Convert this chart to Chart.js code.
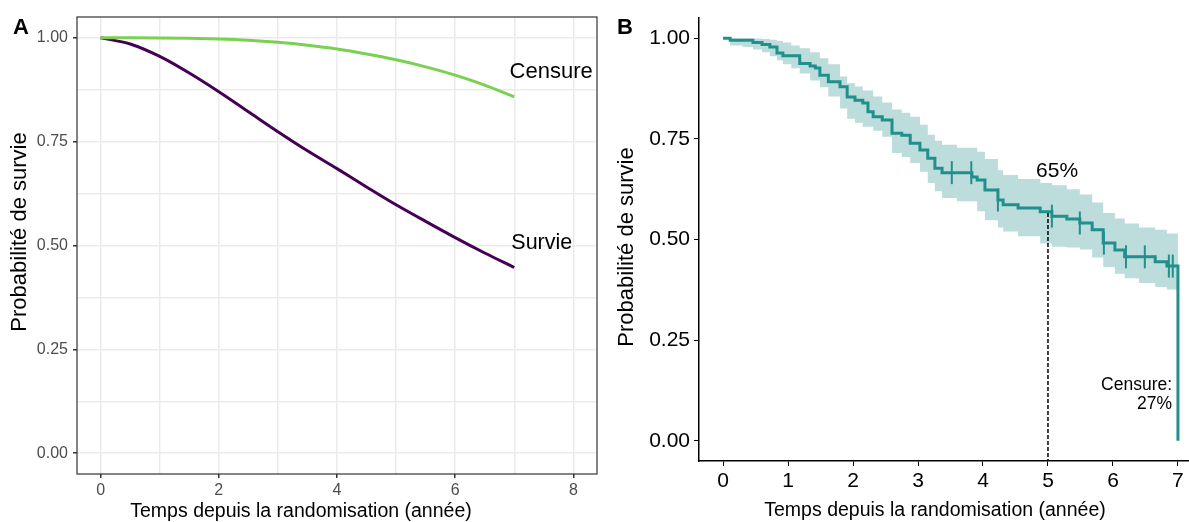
<!DOCTYPE html>
<html>
<head>
<meta charset="utf-8">
<script src="https://cdn.jsdelivr.net/npm/chart.js@4.4.1/dist/chart.umd.min.js"></script>
<style>
body { margin: 0; background: #fff; width: 1189px; height: 522px; position: relative; overflow: hidden; }
canvas { position: absolute; top: 0; }
#chartA { left: 0; }
#chartB { left: 605px; }
</style>
</head>
<body>
<canvas id="chartA" width="600" height="522"></canvas>
<canvas id="chartB" width="584" height="522"></canvas>
<script>
// Panel A: theoretical curves
const yearsA = [0, 0.5, 1, 1.5, 2, 2.5, 3, 3.5, 4, 4.5, 5, 5.5, 6, 6.5, 7];
const survieA = [1, 0.985, 0.955, 0.915, 0.870, 0.822, 0.774, 0.728, 0.685, 0.641, 0.598, 0.558, 0.519, 0.482, 0.447];
const censureA = [1, 1, 0.9996, 0.9987, 0.997, 0.994, 0.989, 0.982, 0.973, 0.961, 0.947, 0.930, 0.910, 0.886, 0.858];
const xTicksA = [0, 2, 4, 6, 8];
const xGridA = [0, 1, 2, 3, 4, 5, 6, 7, 8];
const yTicks = [0, 0.25, 0.5, 0.75, 1];
const yGridA = [0, 0.125, 0.25, 0.375, 0.5, 0.625, 0.75, 0.875, 1];

// Panel B: Kaplan-Meier estimate
const kmTime = [0, 0.11, 0.46, 0.60, 0.72, 0.83, 0.92, 1.18, 1.34, 1.42, 1.49, 1.62, 1.80, 1.91, 2.03, 2.15, 2.23, 2.31, 2.45, 2.60, 2.75, 2.88, 3.03, 3.15, 3.26, 3.37, 3.83, 3.91, 4.03, 4.23, 4.31, 4.54, 4.88, 5.06, 5.29, 5.49, 5.68, 5.85, 6.03, 6.18, 6.65, 6.83, 7.00, 7.00];
const kmSurv = [1, 0.995, 0.989, 0.984, 0.978, 0.963, 0.956, 0.937, 0.931, 0.926, 0.908, 0.892, 0.879, 0.854, 0.846, 0.839, 0.817, 0.805, 0.797, 0.764, 0.759, 0.739, 0.722, 0.702, 0.677, 0.666, 0.655, 0.648, 0.623, 0.598, 0.586, 0.578, 0.569, 0.558, 0.551, 0.541, 0.524, 0.491, 0.474, 0.457, 0.445, 0.434, 0.431, 0];
const ciTime = [0, 0.11, 0.3, 0.46, 0.6, 0.72, 0.83, 0.92, 1.05, 1.18, 1.34, 1.49, 1.62, 1.80, 1.91, 2.03, 2.15, 2.31, 2.45, 2.60, 2.75, 2.88, 3.03, 3.15, 3.26, 3.37, 3.60, 3.91, 4.03, 4.23, 4.31, 4.54, 4.88, 5.06, 5.29, 5.49, 5.68, 5.85, 6.03, 6.18, 6.40, 6.65, 6.83, 7.00];
const ciUpper = [1, 1, 1, 0.999, 0.998, 0.996, 0.993, 0.989, 0.982, 0.975, 0.965, 0.950, 0.935, 0.905, 0.888, 0.880, 0.870, 0.855, 0.840, 0.823, 0.815, 0.805, 0.785, 0.760, 0.745, 0.735, 0.728, 0.718, 0.700, 0.672, 0.660, 0.650, 0.640, 0.635, 0.625, 0.612, 0.592, 0.566, 0.552, 0.540, 0.530, 0.524, 0.515, 0.506];
const ciLower = [1, 0.982, 0.978, 0.972, 0.965, 0.955, 0.945, 0.935, 0.925, 0.912, 0.895, 0.878, 0.855, 0.825, 0.800, 0.790, 0.780, 0.770, 0.755, 0.715, 0.705, 0.690, 0.668, 0.640, 0.620, 0.603, 0.595, 0.570, 0.548, 0.530, 0.520, 0.508, 0.490, 0.482, 0.480, 0.475, 0.455, 0.432, 0.415, 0.404, 0.392, 0.382, 0.376, 0.372];
const censorTime = [3.52, 3.82, 4.23, 5.06, 5.49, 5.86, 6.20, 6.49, 6.86, 6.92];
const censorSurv = [0.666, 0.666, 0.598, 0.558, 0.541, 0.491, 0.457, 0.457, 0.434, 0.434];
const xTicksB = [0, 1, 2, 3, 4, 5, 6, 7];
const medianTime = [5, 5];
const medianSurv = [0.566, -0.05];

const X_TITLE = 'Temps depuis la randomisation (année)';
const Y_TITLE = 'Probabilité de survie';

const FONT = "'Liberation Sans', Arial, sans-serif";
Chart.defaults.font.family = FONT;
Chart.defaults.animation = false;

function toPoints(xs, ys) {
    return xs.map((x, i) => ({ x: x, y: ys[i] }));
}
function setTicks(values) {
    return scale => { scale.ticks = values.map(v => ({ value: v })); };
}

// axis titles, placed like the ggplot output
function drawTitles(ctx, xTitle, yTitle) {
    ctx.save();
    ctx.fillStyle = '#000';
    ctx.textAlign = 'center';
    ctx.textBaseline = 'middle';
    ctx.font = '19.5px ' + FONT;
    ctx.fillText(X_TITLE, xTitle.x, xTitle.y);
    ctx.translate(yTitle.x, yTitle.y);
    ctx.rotate(-Math.PI / 2);
    ctx.font = '22px ' + FONT;
    ctx.fillText(Y_TITLE, 0, 0);
    ctx.restore();
}

// Border, curve labels and panel letter for A
const panelAExtras = {
    id: 'panelAExtras',
    afterDraw(chart) {
        const { ctx, chartArea, scales } = chart;
        ctx.save();
        ctx.strokeStyle = '#333333';
        ctx.lineWidth = 1.2;
        ctx.strokeRect(chartArea.left, chartArea.top, chartArea.right - chartArea.left, chartArea.bottom - chartArea.top);
        ctx.fillStyle = '#000';
        ctx.font = '22px ' + FONT;
        ctx.textAlign = 'left';
        ctx.textBaseline = 'middle';
        ctx.fillText('Censure', scales.x.getPixelForValue(6.92), scales.y.getPixelForValue(0.917));
        ctx.font = '21.5px ' + FONT;
        ctx.fillText('Survie', scales.x.getPixelForValue(6.95), scales.y.getPixelForValue(0.507));
        ctx.font = 'bold 22px ' + FONT;
        ctx.fillText('A', 13, 28);
        ctx.restore();
        drawTitles(ctx, { x: 301, y: 512 }, { x: 20, y: 232 });
    }
};

// Annotations and panel letter for B
const panelBExtras = {
    id: 'panelBExtras',
    afterDraw(chart) {
        const { ctx, scales } = chart;
        ctx.save();
        ctx.fillStyle = '#000';
        ctx.textBaseline = 'middle';
        ctx.font = '21px ' + FONT;
        ctx.textAlign = 'center';
        ctx.fillText('65%', scales.x.getPixelForValue(5.14), scales.y.getPixelForValue(0.67));
        ctx.font = '17.5px ' + FONT;
        ctx.textAlign = 'right';
        ctx.fillText('Censure:', scales.x.getPixelForValue(6.91), scales.y.getPixelForValue(0.139));
        ctx.fillText('27%', scales.x.getPixelForValue(6.91), scales.y.getPixelForValue(0.092));
        ctx.font = 'bold 22px ' + FONT;
        ctx.textAlign = 'left';
        ctx.fillText('B', 12, 28);
        ctx.restore();
        drawTitles(ctx, { x: 330, y: 511 }, { x: 22, y: 247 });
    }
};

new Chart(document.getElementById('chartA'), {
    type: 'line',
    data: {
        datasets: [{
            label: 'Censure',
            data: toPoints(yearsA, censureA),
            borderColor: '#7AD151',
            borderWidth: 3,
            pointRadius: 0,
            cubicInterpolationMode: 'monotone'
        }, {
            label: 'Survie',
            data: toPoints(yearsA, survieA),
            borderColor: '#440154',
            borderWidth: 3,
            pointRadius: 0,
            cubicInterpolationMode: 'monotone'
        }]
    },
    options: {
        responsive: false,
        devicePixelRatio: 1,
        layout: { autoPadding: false, padding: { top: 17, right: 3, bottom: 0, left: 0 } },
        plugins: { legend: { display: false }, tooltip: { enabled: false } },
        scales: {
            x: {
                type: 'linear',
                min: -0.4,
                max: 8.4,
                afterBuildTicks: setTicks(xGridA),
                afterFit: scale => { scale.height = 48; },
                ticks: {
                    autoSkip: false,
                    maxRotation: 0,
                    color: '#4D4D4D',
                    font: { size: 16 },
                    padding: 3,
                    callback: v => xTicksA.includes(v) ? String(v) : ''
                },
                grid: {
                    color: '#EBEBEB',
                    lineWidth: 1.5,
                    tickLength: 4,
                    tickColor: c => xTicksA.includes(c.tick.value) ? '#333333' : 'rgba(0,0,0,0)'
                },
                border: { display: false }
            },
            y: {
                min: -0.05,
                max: 1.05,
                afterBuildTicks: setTicks(yGridA),
                afterFit: scale => { scale.width = 77; },
                ticks: {
                    autoSkip: false,
                    color: '#4D4D4D',
                    font: { size: 16 },
                    padding: 5,
                    callback: v => yTicks.includes(v) ? v.toFixed(2) : ''
                },
                grid: {
                    color: '#EBEBEB',
                    lineWidth: 1.5,
                    tickLength: 4,
                    tickColor: c => yTicks.includes(c.tick.value) ? '#333333' : 'rgba(0,0,0,0)'
                },
                border: { display: false }
            }
        }
    },
    plugins: [panelAExtras]
});

new Chart(document.getElementById('chartB'), {
    type: 'line',
    data: {
        datasets: [{
            label: 'Survie',
            data: toPoints(kmTime, kmSurv),
            stepped: true,
            borderColor: '#21908C',
            borderWidth: 3,
            pointRadius: 0,
            order: 2
        }, {
            label: 'Censure',
            data: toPoints(censorTime, censorSurv),
            showLine: false,
            pointStyle: 'line',
            rotation: 90,
            pointRadius: 11.5,
            pointBorderWidth: 2,
            borderColor: '#21908C',
            order: 1
        }, {
            label: 'Médiane',
            data: toPoints(medianTime, medianSurv),
            borderColor: '#000',
            borderWidth: 1.5,
            borderDash: [4, 2],
            pointRadius: 0,
            order: 0
        }, {
            label: 'IC haut',
            data: toPoints(ciTime, ciUpper),
            stepped: true,
            borderWidth: 0,
            pointRadius: 0,
            fill: '+1',
            backgroundColor: 'rgba(33,144,140,0.3)',
            order: 4
        }, {
            label: 'IC bas',
            data: toPoints(ciTime, ciLower),
            stepped: true,
            borderWidth: 0,
            pointRadius: 0,
            fill: false,
            order: 5
        }]
    },
    options: {
        responsive: false,
        devicePixelRatio: 1,
        layout: { autoPadding: false, padding: { top: 18, right: 0, bottom: 0, left: 0 } },
        plugins: { legend: { display: false }, tooltip: { enabled: false } },
        scales: {
            x: {
                type: 'linear',
                min: -0.37,
                max: 7.17,
                afterBuildTicks: setTicks(xTicksB),
                afterFit: scale => { scale.height = 61; },
                ticks: {
                    autoSkip: false,
                    maxRotation: 0,
                    color: '#000',
                    font: { size: 21 },
                    padding: 3,
                    callback: v => String(v)
                },
                grid: { drawOnChartArea: false, tickLength: 5, tickColor: '#000' },
                border: { color: '#000', width: 1.5 }
            },
            y: {
                min: -0.05,
                max: 1.05,
                afterBuildTicks: setTicks(yTicks),
                afterFit: scale => { scale.width = 94; },
                ticks: {
                    autoSkip: false,
                    color: '#000',
                    font: { size: 21 },
                    padding: 4,
                    callback: v => v.toFixed(2)
                },
                grid: { drawOnChartArea: false, tickLength: 5, tickColor: '#000' },
                border: { color: '#000', width: 1.5 }
            }
        }
    },
    plugins: [panelBExtras]
});
</script>
</body>
</html>
